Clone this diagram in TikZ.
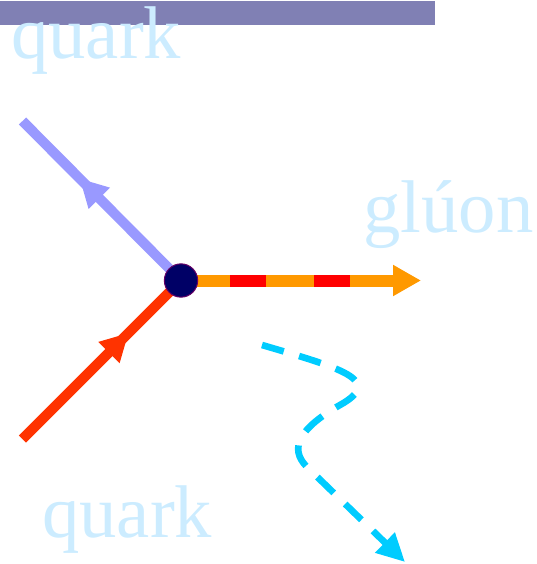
\documentclass[tikz,border=0pt]{standalone}
\usepackage{fontspec}
\setmainfont{Liberation Serif}
\usetikzlibrary{arrows.meta}
\usetikzlibrary{decorations.markings}
\usepackage{xcolor}

\tikzset{
  biglabel/.style={anchor=base west, inner sep=0pt, text={rgb,255:red,204;green,236;blue,255}, font=\fontsize{56}{60}\selectfont},
  midarrow/.style={postaction={decorate}, decoration={markings, mark=at position #1 with {\arrow{Triangle[length=21pt,width=21pt]}}}},
  vertexdot/.style={circle, minimum size=25pt, inner sep=0pt, fill={rgb,255:red,0;green,0;blue,102}, draw={rgb,255:red,102;green,0;blue,102}, line width=0.75}
}

\begin{document}
\begin{tikzpicture}[x=0.75pt,y=0.75pt,yscale=-1,xscale=1]
\useasboundingbox (0,0) rectangle (536,564);

%Shape: Rectangle [id:bar]
\fill [color={rgb, 255:red, 128; green, 128; blue, 180 }] (0,1) rectangle (435,25) ;

\coordinate (vc) at (181,280.5);
\coordinate (qin) at (22.5,439);
\coordinate (qout) at (22.5,121);
\coordinate (gend) at (421,280.5);
\coordinate (rs) at (230,280.5);
\coordinate (re) at (350,280.5);
\coordinate (ws) at (262,345);
\coordinate (wend) at (405,562);

%Straight Lines [id:quarkout]
\draw [color={rgb, 255:red, 153; green, 153; blue, 255 }, line width=7.5pt, midarrow=0.64] (vc) -- (qout) ;
%Straight Lines [id:quarkin]
\draw [color={rgb, 255:red, 255; green, 51; blue, 0 }, line width=7.5pt, midarrow=0.67] (qin) -- (vc) ;
%Straight Lines [id:gluon]
\draw [color={rgb, 255:red, 255; green, 153; blue, 0 }, line width=9pt, -{Triangle[length=21pt,width=22pt]}] (vc) -- (gend) ;
\draw [color={rgb, 255:red, 255; green, 0; blue, 0 }, line width=9pt, dash pattern=on 27pt off 36pt] (rs) -- (re) ;
%Curve Lines [id:wavy]
\draw [color={rgb, 255:red, 0; green, 204; blue, 255 }, line width=5pt, dash pattern=on 17pt off 12pt, -{Triangle[length=21pt,width=20pt]}] (ws) .. controls (340,368) and (385,380) .. (340,405) .. controls (300,428) and (288,448) .. (307,467) -- (wend) ;

%Shape: Circle [id:vertex]
\node [vertexdot] (v) at (vc) {};

% Text Node
\node [biglabel] (qtop) at (11,58) {quark};
% Text Node
\node [biglabel] (qbot) at (42,537) {quark};
% Text Node
\node [biglabel] (glu) at (363,232) {glúon};

\end{tikzpicture}
\end{document}
